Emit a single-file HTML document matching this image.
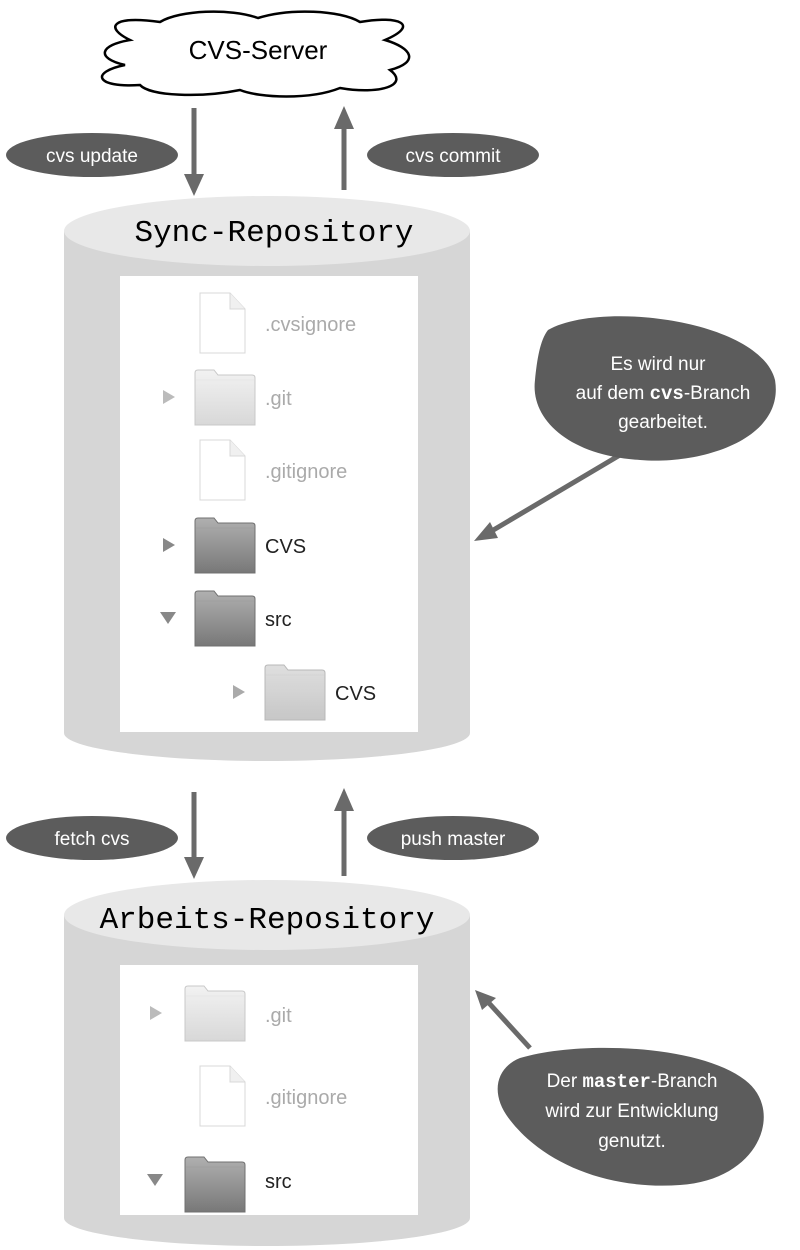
<!DOCTYPE html>
<html><head><meta charset="utf-8"><style>
html,body{margin:0;padding:0;background:#fff;}
svg{display:block}
.s{font-family:"Liberation Sans",sans-serif}
.m{font-family:"Liberation Mono",monospace}
</style></head><body>
<svg width="800" height="1250" viewBox="0 0 800 1250" xmlns="http://www.w3.org/2000/svg">
<defs>
<linearGradient id="fl" x1="0" y1="0" x2="0" y2="1"><stop offset="0" stop-color="#f2f2f2"/><stop offset="1" stop-color="#d8d8d8"/></linearGradient>
<linearGradient id="fd" x1="0" y1="0" x2="0" y2="1"><stop offset="0" stop-color="#b0b0b0"/><stop offset="1" stop-color="#787878"/></linearGradient>
<g id="folderL"><path d="M0 56 V4 q0 -3 3 -3 h16 l4 5 h34 q3 0 3 3 v47z" fill="url(#fl)" stroke="#c8c8c8"/><line x1="1" y1="11" x2="59" y2="11" stroke="#e6e6e6"/></g>
<g id="folderD"><path d="M0 56 V4 q0 -3 3 -3 h16 l4 5 h34 q3 0 3 3 v47z" fill="url(#fd)" stroke="#707070"/><line x1="1" y1="11" x2="59" y2="11" stroke="#a0a0a0"/></g>
<g id="file"><path d="M0 0 h30 l15 16 v44 h-45z" fill="#fff" stroke="#d8d8d8"/><path d="M30 0 v16 h15" fill="#f0f0f0" stroke="#d8d8d8"/></g>
</defs>

<!-- cloud -->
<path d="M130 40 C105 28 110 15 160 22 C180 10 230 8 258 18 C290 8 340 10 360 22 C400 15 420 25 385 40 C412 48 420 62 390 70 C410 85 380 95 340 88 C310 100 260 98 240 90 C200 98 150 96 140 85 C95 88 90 72 125 65 C95 58 100 45 130 40z" fill="#fff" stroke="#000" stroke-width="2.5"/>
<text x="258" y="59" class="s" font-size="26" text-anchor="middle">CVS-Server</text>

<!-- arrows top -->
<line x1="194" y1="108" x2="194" y2="175" stroke="#6a6a6a" stroke-width="5"/>
<polygon points="184,174 204,174 194,196" fill="#6a6a6a"/>
<line x1="344" y1="190" x2="344" y2="128" stroke="#6a6a6a" stroke-width="5"/>
<polygon points="334,129 354,129 344,106" fill="#6a6a6a"/>
<ellipse cx="92" cy="155" rx="86" ry="22" fill="#5c5c5c"/>
<text x="92" y="162" class="s" font-size="19" fill="#fff" text-anchor="middle">cvs update</text>
<ellipse cx="453" cy="155" rx="86" ry="22" fill="#5c5c5c"/>
<text x="453" y="162" class="s" font-size="19" fill="#fff" text-anchor="middle">cvs commit</text>

<!-- cylinder 1 -->
<ellipse cx="267" cy="733" rx="203" ry="28" fill="#d6d6d6"/>
<rect x="64" y="231" width="406" height="502" fill="#d6d6d6"/>
<ellipse cx="267" cy="231" rx="203" ry="35" fill="#e8e8e8"/>
<text x="274" y="241" class="m" font-size="31" text-anchor="middle">Sync-Repository</text>
<rect x="120" y="276" width="298" height="456" fill="#fff"/>

<use href="#file" x="200" y="293"/>
<text x="265" y="331" class="s" font-size="20" fill="#aaa">.cvsignore</text>
<polygon points="163,390 163,404 175,397" fill="#bbb"/>
<use href="#folderL" x="195" y="369"/>
<text x="265" y="405" class="s" font-size="20" fill="#aaa">.git</text>
<use href="#file" x="200" y="440"/>
<text x="265" y="478" class="s" font-size="20" fill="#aaa">.gitignore</text>
<polygon points="163,538 163,552 175,545" fill="#888"/>
<use href="#folderD" x="195" y="517"/>
<text x="265" y="553" class="s" font-size="20" fill="#222">CVS</text>
<polygon points="160,612 176,612 168,624" fill="#888"/>
<use href="#folderD" x="195" y="590"/>
<text x="265" y="626" class="s" font-size="20" fill="#222">src</text>
<polygon points="233,685 233,699 245,692" fill="#aaa"/>
<use href="#folderL" x="265" y="664" style="filter:brightness(0.92)"/>
<text x="335" y="700" class="s" font-size="20" fill="#222">CVS</text>

<!-- callout 1 -->
<line x1="625" y1="452" x2="490" y2="532" stroke="#6a6a6a" stroke-width="5"/>
<polygon points="474,541 490,522 498,538" fill="#6a6a6a"/>
<path d="M548 330 C600 300 760 320 775 380 C785 440 700 465 640 460 C570 456 530 420 535 380 C537 360 540 340 548 330z" fill="#5c5c5c"/>
<text x="658" y="370" class="s" font-size="19" fill="#fff" text-anchor="middle">Es wird nur</text>
<text x="663" y="399" class="s" font-size="19" fill="#fff" text-anchor="middle">auf dem <tspan class="m" font-weight="bold">cvs</tspan>-Branch</text>
<text x="663" y="428" class="s" font-size="19" fill="#fff" text-anchor="middle">gearbeitet.</text>

<!-- arrows middle -->
<line x1="194" y1="792" x2="194" y2="858" stroke="#6a6a6a" stroke-width="5"/>
<polygon points="184,857 204,857 194,879" fill="#6a6a6a"/>
<line x1="344" y1="876" x2="344" y2="810" stroke="#6a6a6a" stroke-width="5"/>
<polygon points="334,811 354,811 344,788" fill="#6a6a6a"/>
<ellipse cx="92" cy="838" rx="86" ry="22" fill="#5c5c5c"/>
<text x="92" y="845" class="s" font-size="19" fill="#fff" text-anchor="middle">fetch cvs</text>
<ellipse cx="453" cy="838" rx="86" ry="22" fill="#5c5c5c"/>
<text x="453" y="845" class="s" font-size="19" fill="#fff" text-anchor="middle">push master</text>

<!-- cylinder 2 -->
<ellipse cx="267" cy="1218" rx="203" ry="28" fill="#d6d6d6"/>
<rect x="64" y="915" width="406" height="303" fill="#d6d6d6"/>
<ellipse cx="267" cy="915" rx="203" ry="35" fill="#e8e8e8"/>
<text x="267" y="928" class="m" font-size="31" text-anchor="middle">Arbeits-Repository</text>
<rect x="120" y="965" width="298" height="250" fill="#fff"/>

<polygon points="150,1006 150,1020 162,1013" fill="#bbb"/>
<use href="#folderL" x="185" y="985"/>
<text x="265" y="1022" class="s" font-size="20" fill="#aaa">.git</text>
<use href="#file" x="200" y="1066"/>
<text x="265" y="1104" class="s" font-size="20" fill="#aaa">.gitignore</text>
<polygon points="147,1174 163,1174 155,1186" fill="#888"/>
<use href="#folderD" x="185" y="1156"/>
<text x="265" y="1188" class="s" font-size="20" fill="#222">src</text>

<!-- callout 2 -->
<line x1="530" y1="1048" x2="488" y2="1002" stroke="#6a6a6a" stroke-width="5"/>
<polygon points="475,990 496,998 482,1010" fill="#6a6a6a"/>
<path d="M520 1058 C580 1040 700 1045 745 1080 C785 1110 760 1180 680 1185 C610 1190 545 1165 510 1120 C490 1095 495 1068 520 1058z" fill="#5c5c5c"/>
<text x="632" y="1087" class="s" font-size="19" fill="#fff" text-anchor="middle">Der <tspan class="m" font-weight="bold">master</tspan>-Branch</text>
<text x="632" y="1117" class="s" font-size="19" fill="#fff" text-anchor="middle">wird zur Entwicklung</text>
<text x="632" y="1147" class="s" font-size="19" fill="#fff" text-anchor="middle">genutzt.</text>
</svg>
</body></html>
